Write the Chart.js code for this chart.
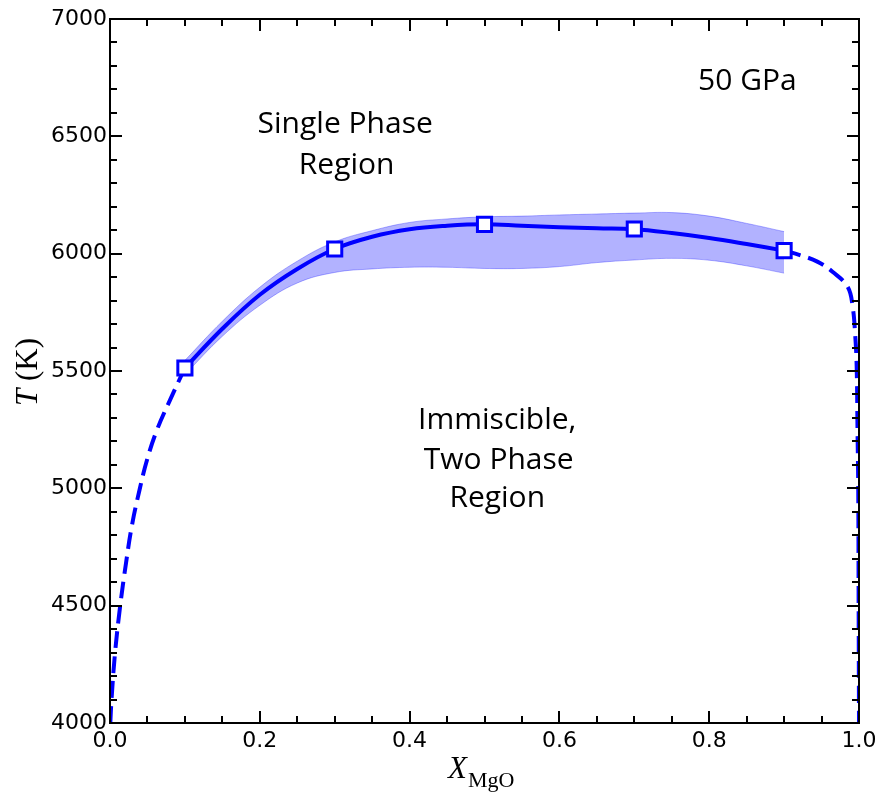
<!DOCTYPE html>
<html>
<head>
<meta charset="utf-8">
<script src="https://cdn.jsdelivr.net/npm/chart.js@4/dist/chart.umd.min.js"></script>
<style>
  html, body { margin: 0; padding: 0; background: #fff; }
  canvas { display: block; }
</style>
</head>
<body>
<canvas id="phaseChart" width="886" height="796"></canvas>
<script>
// simulated points (squares)
const xPoints = [0.1, 0.3, 0.5, 0.7, 0.9];
const tPoints = [5513, 6020, 6125, 6105, 6013];

// solid fit through the points
const xFit = [0.1, 0.15, 0.2, 0.25, 0.3, 0.35, 0.4, 0.45, 0.5, 0.55, 0.6, 0.65, 0.7, 0.75, 0.8, 0.85, 0.9];
const tFit = [5513, 5680, 5825, 5935, 6020, 6072, 6104, 6119, 6125, 6119, 6113, 6108, 6104, 6088, 6067, 6041, 6013];

// uncertainty band
const tUpper = [5545, 5712, 5857, 5968, 6050, 6098, 6133, 6148, 6157, 6160, 6165, 6169, 6173, 6175, 6160, 6129, 6094];
const tLower = [5485, 5648, 5780, 5875, 5920, 5935, 5942, 5942, 5937, 5937, 5945, 5962, 5973, 5980, 5972, 5948, 5917];

// extrapolated dashed branches
const xLeft = [0.0004, 0.002, 0.0067, 0.0134, 0.0214, 0.0294, 0.0394, 0.0494, 0.0627, 0.0801, 0.1];
const tLeft = [4000, 4098, 4298, 4494, 4682, 4844, 4993, 5121, 5249, 5376, 5513];
const xRight = [0.9, 0.921, 0.945, 0.965, 0.985, 0.9915, 0.995, 0.9969, 0.998, 0.999, 0.9995, 1.0];
const tRight = [6013, 5994, 5965, 5922, 5858, 5774, 5650, 5519, 5250, 4993, 4500, 4000];

// annotations
const labels = [
    { x: 0.314, t: 6550, text: 'Single Phase' },
    { x: 0.316, t: 6375, text: 'Region' },
    { x: 0.517, t: 5291, text: 'Immiscible,' },
    { x: 0.519, t: 5117, text: 'Two Phase' },
    { x: 0.517, t: 4955, text: 'Region' },
    { x: 0.851, t: 6732, text: '50 GPa' }
];

const BLUE = '#0000ff';
const pts = (xs, ys) => xs.map((x, i) => ({ x: x, y: ys[i] }));

// frame, inward ticks, annotations and axis titles
const framePlugin = {
    id: 'frame',
    afterDatasetsDraw(chart) {
        const ctx = chart.ctx;
        const a = chart.chartArea;
        const xs = chart.scales.x, ys = chart.scales.y;
        ctx.save();
        ctx.strokeStyle = '#000';
        ctx.lineWidth = 2;
        ctx.beginPath();
        // x ticks every 0.05, major every 0.2
        for (let i = 0; i <= 20; i++) {
            const px = Math.round(xs.getPixelForValue(i * 0.05));
            const len = (i % 4 === 0) ? 12 : 7;
            ctx.moveTo(px, a.bottom); ctx.lineTo(px, a.bottom - len);
            ctx.moveTo(px, a.top); ctx.lineTo(px, a.top + len);
        }
        // y ticks every 100, major every 500
        for (let i = 0; i <= 30; i++) {
            const py = Math.round(ys.getPixelForValue(4000 + i * 100));
            const len = (i % 5 === 0) ? 12 : 7;
            ctx.moveTo(a.left, py); ctx.lineTo(a.left + len, py);
            ctx.moveTo(a.right, py); ctx.lineTo(a.right - len, py);
        }
        ctx.stroke();
        ctx.strokeRect(a.left, a.top, a.right - a.left, a.bottom - a.top);

        // region labels
        ctx.fillStyle = '#000';
        ctx.font = '30px "Open Sans"';
        ctx.textAlign = 'center';
        ctx.textBaseline = 'middle';
        labels.forEach(l => {
            ctx.fillText(l.text, xs.getPixelForValue(l.x), ys.getPixelForValue(l.t));
        });

        // x axis title: X_MgO
        ctx.textAlign = 'left';
        ctx.textBaseline = 'alphabetic';
        ctx.font = 'italic 31px "Liberation Serif"';
        const xw = ctx.measureText('X').width;
        const x0 = 448;
        ctx.fillText('X', x0, 778);
        ctx.font = '22px "Liberation Serif"';
        ctx.fillText('MgO', x0 + xw + 1, 787);

        // y axis title: T (K)
        ctx.translate(37, 372);
        ctx.rotate(-Math.PI / 2);
        ctx.font = 'italic 31px "Liberation Serif"';
        const tw = ctx.measureText('T').width;
        ctx.font = '31px "Liberation Serif"';
        const kw = ctx.measureText(' (K)').width;
        ctx.font = 'italic 31px "Liberation Serif"';
        ctx.fillText('T', -(tw + kw) / 2, 0);
        ctx.font = '31px "Liberation Serif"';
        ctx.fillText(' (K)', -(tw + kw) / 2 + tw, 0);
        ctx.restore();
    }
};

new Chart(document.getElementById('phaseChart'), {
    type: 'scatter',
    data: {
        datasets: [
            {
                label: 'points',
                data: pts(xPoints, tPoints),
                showLine: false,
                pointStyle: 'rect',
                pointRadius: 10,
                pointBorderWidth: 3,
                pointBackgroundColor: '#ffffff',
                pointBorderColor: BLUE,
                order: 0
            },
            {
                label: 'fit',
                data: pts(xFit, tFit),
                showLine: true,
                borderColor: BLUE,
                borderWidth: 4,
                pointRadius: 0,
                tension: 0.4,
                order: 1
            },
            {
                label: 'left',
                data: pts(xLeft, tLeft),
                showLine: true,
                borderColor: BLUE,
                borderWidth: 4,
                borderDash: [17, 8],
                pointRadius: 0,
                tension: 0.4,
                order: 2
            },
            {
                label: 'right',
                data: pts(xRight, tRight),
                showLine: true,
                borderColor: BLUE,
                borderWidth: 4,
                borderDash: [17, 8],
                pointRadius: 0,
                tension: 0.4,
                order: 2
            },
            {
                label: 'upper',
                data: pts(xFit, tUpper),
                showLine: true,
                borderColor: 'rgba(0, 0, 255, 0.3)',
                borderWidth: 1,
                backgroundColor: 'rgba(0, 0, 255, 0.3)',
                fill: '+1',
                pointRadius: 0,
                tension: 0.4,
                order: 3
            },
            {
                label: 'lower',
                data: pts(xFit, tLower),
                showLine: true,
                borderColor: 'rgba(0, 0, 255, 0.3)',
                borderWidth: 1,
                pointRadius: 0,
                tension: 0.4,
                order: 4
            }
        ]
    },
    options: {
        responsive: false,
        animation: false,
        layout: { padding: { top: 19, right: 27, left: 0, bottom: 0 } },
        plugins: {
            legend: { display: false },
            tooltip: { enabled: false }
        },
        scales: {
            x: {
                type: 'linear',
                min: 0,
                max: 1,
                grid: { display: false, drawTicks: false },
                border: { display: false },
                ticks: {
                    stepSize: 0.2,
                    maxRotation: 0,
                    padding: 5,
                    color: '#000',
                    font: { family: 'DejaVu Sans', size: 22 },
                    callback: v => v.toFixed(1)
                },
                afterFit: s => { s.height = 73; s.paddingLeft = 0; s.paddingRight = 0; }
            },
            y: {
                min: 4000,
                max: 7000,
                grid: { display: false, drawTicks: false },
                border: { display: false },
                ticks: {
                    stepSize: 500,
                    padding: 3,
                    color: '#000',
                    font: { family: 'DejaVu Sans', size: 22 },
                    callback: v => String(v)
                },
                afterFit: s => { s.width = 110; s.paddingTop = 0; s.paddingBottom = 0; }
            }
        }
    },
    plugins: [framePlugin]
});
</script>
</body>
</html>
